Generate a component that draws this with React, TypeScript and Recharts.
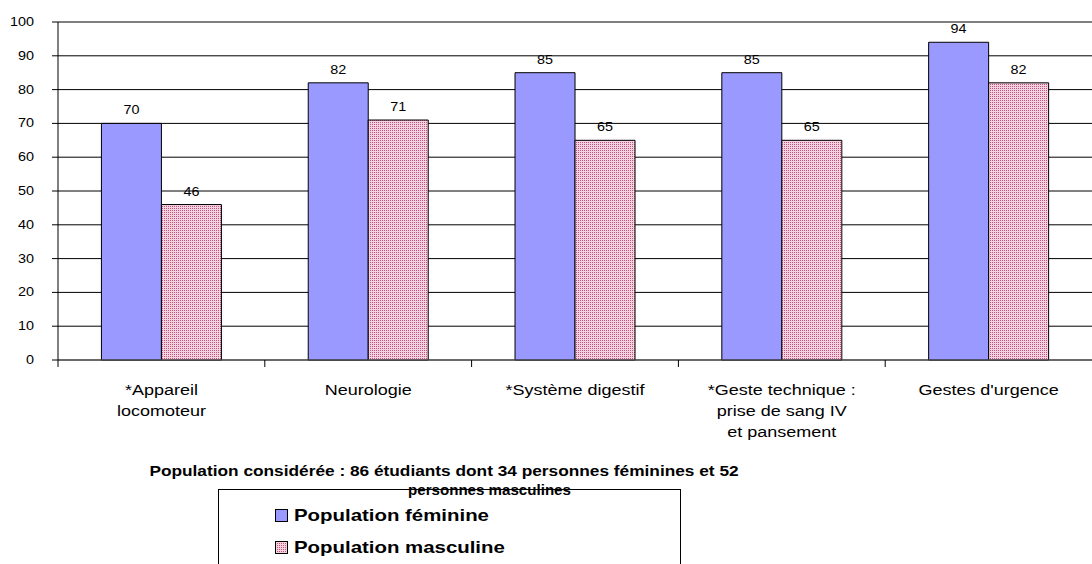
import { BarChart, Bar, XAxis, YAxis, CartesianGrid, LabelList } from 'recharts'

const CATEGORIES = [
  '*Appareil\nlocomoteur',
  'Neurologie',
  '*Système digestif',
  '*Geste technique :\nprise de sang IV\net pansement',
  "Gestes d'urgence",
]
const FEMININE = [70, 82, 85, 85, 94]
const MASCULINE = [46, 71, 65, 65, 82]
const Y_TICKS = [0, 10, 20, 30, 40, 50, 60, 70, 80, 90, 100]

const data = CATEGORIES.map((name, i) => ({
  name,
  feminine: FEMININE[i],
  masculine: MASCULINE[i],
}))

const FONT = '"Liberation Sans", Arial, sans-serif'
const WIDTH = 1092
const HEIGHT = 564
const MARGIN = { top: 22, right: 0, left: 0, bottom: 174 }
const Y_WIDTH = 58
const BAND = (WIDTH - Y_WIDTH - MARGIN.right) / CATEGORIES.length
// the source picture is stretched horizontally a bit
const STRETCH = 1.2

function Stretched({ x, y, anchor, size, children }: any) {
  return (
    <text
      transform={`translate(${x} ${y}) scale(${STRETCH} 1)`}
      textAnchor={anchor}
      fontFamily={FONT}
      fontSize={size}
      fill="#000"
    >
      {children}
    </text>
  )
}

function CategoryTick(props: any) {
  const { x, y, payload } = props
  const lines = String(payload.value).split('\n')
  return (
    <g>
      <line x1={x - BAND / 2} x2={x - BAND / 2} y1={y - 8} y2={y - 1} stroke="#000" />
      {lines.map((l, i) => (
        <Stretched key={i} x={x} y={y + 27 + i * 21} anchor="middle" size={15}>
          {l}
        </Stretched>
      ))}
    </g>
  )
}

function ValueTick(props: any) {
  const { x, y, payload } = props
  return (
    <Stretched x={x} y={y + 4} anchor="end" size={12}>
      {payload.value}
    </Stretched>
  )
}

function BarValue(props: any) {
  const { x, y, width, value } = props
  return (
    <Stretched x={x + width / 2} y={y - 9} anchor="middle" size={12}>
      {value}
    </Stretched>
  )
}

function PinkDots({ id }: { id: string }) {
  return (
    <pattern id={id} width="2" height="2" patternUnits="userSpaceOnUse">
      <rect width="2" height="2" fill="#f3d3df" />
      <rect width="1" height="1" fill="#c4517e" />
    </pattern>
  )
}

const LEGEND = [
  { label: 'Population féminine', fill: '#9999ff' },
  { label: 'Population masculine', fill: 'url(#lpDots)' },
]

export default function App() {
  return (
    <div style={{ position: 'absolute', left: 0, top: 0, width: WIDTH, height: HEIGHT, overflow: 'hidden', background: '#fff', fontFamily: FONT }}>
      <BarChart
        width={WIDTH}
        height={HEIGHT}
        data={data}
        margin={MARGIN}
        barCategoryGap="21%"
        barGap={0}
      >
        <defs>
          <PinkDots id="pinkDots" />
        </defs>
        <CartesianGrid vertical={false} stroke="#000" strokeWidth={1} />
        <XAxis
          dataKey="name"
          tickLine={false}
          axisLine={{ stroke: '#555' }}
          interval={0}
          tick={<CategoryTick />}
        />
        <YAxis
          width={Y_WIDTH}
          domain={[0, 100]}
          ticks={Y_TICKS}
          interval={0}
          tickSize={6}
          tickMargin={18}
          axisLine={{ stroke: '#000' }}
          tickLine={{ stroke: '#000' }}
          tick={<ValueTick />}
        />
        <Bar dataKey="feminine" fill="#9999ff" stroke="#000" strokeWidth={1} isAnimationActive={false}>
          <LabelList dataKey="feminine" content={<BarValue />} />
        </Bar>
        <Bar dataKey="masculine" fill="url(#pinkDots)" stroke="#000" strokeWidth={1} isAnimationActive={false}>
          <LabelList dataKey="masculine" content={<BarValue />} />
        </Bar>
      </BarChart>

      <div
        style={{
          position: 'absolute',
          left: 0,
          width: 888,
          top: 463,
          textAlign: 'center',
          fontWeight: 'bold',
          fontSize: 14.4,
          color: '#000',
          transform: `scaleX(${STRETCH})`,
          transformOrigin: '444px 0',
          whiteSpace: 'nowrap',
        }}
      >
        Population considérée : 86 étudiants dont 34 personnes féminines et 52
      </div>
      <div
        style={{
          position: 'absolute',
          left: 408,
          top: 482,
          fontWeight: 'bold',
          fontSize: 14.4,
          color: '#000',
          transform: `scaleX(1.05)`,
          transformOrigin: '0 0',
          whiteSpace: 'nowrap',
        }}
      >
        personnes masculines
      </div>
      <div
        style={{
          position: 'absolute',
          left: 218,
          top: 489,
          width: 463,
          height: 90,
          border: '1px solid #000',
          boxSizing: 'border-box',
        }}
      >
        {LEGEND.map((item, i) => (
          <div
            key={item.label}
            style={{ position: 'absolute', left: 56, top: 17 + i * 32, display: 'flex', alignItems: 'center' }}
          >
            <svg width={13} height={13} style={{ marginRight: 6 }}>
              <defs>
                <PinkDots id="lpDots" />
              </defs>
              <rect x={0.5} y={0.5} width={12} height={12} fill={item.fill} stroke="#000" />
            </svg>
            <span
              style={{
                fontWeight: 'bold',
                fontSize: 17,
                color: '#000',
                lineHeight: '17px',
                transform: `scaleX(${STRETCH})`,
                transformOrigin: '0 50%',
                whiteSpace: 'nowrap',
              }}
            >
              {item.label}
            </span>
          </div>
        ))}
      </div>
    </div>
  )
}
